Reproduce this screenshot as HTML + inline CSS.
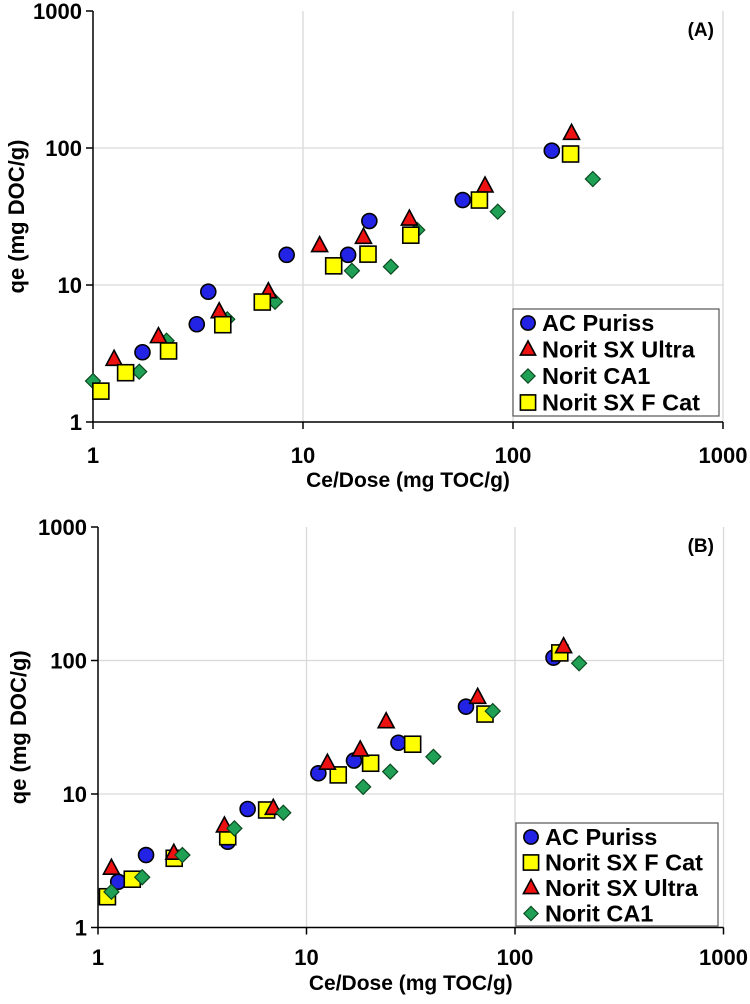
<!DOCTYPE html>
<html><head><meta charset="utf-8">
<style>
html,body{margin:0;padding:0;background:#fff;}
svg{display:block;font-family:"Liberation Sans",Arial,sans-serif;font-weight:bold;}
</style></head>
<body>
<svg id="chart" width="750" height="1004" viewBox="0 0 750 1004"></svg>
<script>
// ---- Panel A data ----
const aPurissX=[1.72,3.12,3.54,8.36,16.4,20.7,57.6,153];
const aPurissY=[3.23,5.17,8.93,16.6,16.6,29.3,41.7,95.6];
const aUltraX=[1.26,2.05,3.99,6.84,12.0,19.4,32.1,73.6,190];
const aUltraY=[2.87,4.2,6.38,8.93,19.4,22.3,30.3,52.8,128];
const aCA1X=[1.0,1.66,2.24,4.36,7.36,17.1,26.2,35.0,84.6,240];
const aCA1Y=[1.99,2.33,3.92,5.62,7.55,12.7,13.6,25.2,34.3,59.4];
const aFCatX=[1.09,1.43,2.29,4.15,6.40,14.0,20.4,32.6,69.2,188];
const aFCatY=[1.68,2.29,3.30,5.13,7.51,13.8,16.8,23.1,41.7,90.4];
// ---- Panel B data ----
const bPurissX=[1.25,1.70,4.19,5.22,11.4,16.9,27.6,58.2,153];
const bPurissY=[2.20,3.49,4.39,7.72,14.3,17.8,24.2,45.1,105];
const bFCatX=[1.11,1.46,2.32,4.19,6.44,14.2,20.3,32.3,71.8,164];
const bFCatY=[1.70,2.30,3.30,4.79,7.59,13.9,17.0,23.6,39.7,114];
const bUltraX=[1.16,2.31,4.04,6.93,12.6,18.1,24.1,66.2,171];
const bUltraY=[2.78,3.60,5.76,7.81,17.0,21.4,34.8,53.0,127];
const bCA1X=[1.16,1.63,2.54,4.51,7.74,18.7,25.2,40.6,78.2,203];
const bCA1Y=[1.85,2.38,3.49,5.53,7.24,11.3,14.7,19.0,41.8,95.3];
const tickVals=[1,10,100,1000];
const tickLabels=["1","10","100","1000"];

const NS="http://www.w3.org/2000/svg";
const svg=document.getElementById('chart');
function mk(tag,attrs,parent){const e=document.createElementNS(NS,tag);for(const k in attrs)e.setAttribute(k,attrs[k]);(parent||svg).appendChild(e);return e;}

function panel(p){
  const g=mk('g',{});
  
  
  const xs=v=>p.x0+(Math.log10(v))*p.dx;
  const ys=v=>p.y0-(Math.log10(v))*p.dy;
  tickVals.forEach((t,i)=>{
    if(i>0){
      const l1=mk('line',{x1:xs(t),x2:xs(t),y1:ys(1000),y2:ys(1),stroke:'#d9d9d9','stroke-width':1.3},g);
      
      
      if(i<3){const l2=mk('line',{x1:xs(1),x2:xs(1000),y1:ys(t),y2:ys(t),stroke:'#d9d9d9','stroke-width':1.3},g);
      
      }
    }
  });
  const ax=mk('path',{d:`M${xs(1)} ${ys(1000)} V${ys(1)} H${xs(1000)}`,fill:'none',stroke:'#000','stroke-width':1.5},g);
  
  
  tickVals.forEach((t,i)=>{
    const tk=mk('line',{x1:xs(1)-7,x2:xs(1),y1:ys(t),y2:ys(t),stroke:'#000','stroke-width':1.5},g);
    
    
    const tx=mk('line',{x1:xs(t),x2:xs(t),y1:ys(1),y2:ys(1)+7,stroke:'#000','stroke-width':1.5},g);
    
    
    const yl=mk('text',{x:xs(1)-11,y:ys(t)+8,'text-anchor':'end','font-size':22},g);
    yl.textContent=tickLabels[i];
    
    
    const xl=mk('text',{x:xs(t),y:p.xlabY,'text-anchor':'middle','font-size':22},g);
    xl.textContent=tickLabels[i];
    
    
  });
  const xt=mk('text',{x:(xs(1)+xs(1000))/2,y:p.xtitleY,'text-anchor':'middle','font-size':21},g);
  xt.textContent='Ce/Dose (mg TOC/g)';
  
  
  const yc=(ys(1)+ys(1000))/2;
  const yt=mk('text',{x:p.ytitleX,y:yc,'text-anchor':'middle','font-size':22,transform:`rotate(-90 ${p.ytitleX} ${yc})`},g);
  yt.textContent='qe (mg DOC/g)';
  
  
  const pl=mk('text',{x:714,y:ys(1000)+25,'text-anchor':'end','font-size':19},g);
  pl.textContent=p.label;
  
  
  p.series.forEach(s=>{
    const sg=mk('g',{},g);
    
    
    s.x.forEach((v,i)=>{
      const m=marker(s.shape,xs(v),ys(s.y[i]),sg);
      
      
    });
  });
  const lg=mk('g',{},g);
  
  
  const box=mk('rect',{x:p.leg[0],y:p.leg[1],width:p.leg[2],height:p.leg[3],fill:'#fff',stroke:'#555','stroke-width':1.2},lg);
  
  
  p.legOrder.forEach((s,i)=>{
    const cy=p.leg[1]+14+i*p.legStep;
    const eg=mk('g',{},lg);
    
    
    marker(s.shape,p.leg[0]+15,cy,eg,0.95);
    const t=mk('text',{x:p.leg[0]+29,y:cy+8,'font-size':23.5},eg);
    t.textContent=s.label;
  });
}
function marker(shape,x,y,parent,sc){
  sc=sc||1;
  const st={stroke:'#000','stroke-width':1.6};
  if(shape==='circle')return mk('circle',Object.assign({cx:x,cy:y,r:7.5*sc,fill:'#2323e6'},st),parent);
  if(shape==='square'){const h=8*sc;return mk('rect',Object.assign({x:x-h,y:y-h,width:2*h,height:2*h,fill:'#ffff00'},st),parent);}
  if(shape==='triangle'){const h=8*sc;return mk('path',Object.assign({d:`M${x} ${y-h-1} L${x+h} ${y+h-2} L${x-h} ${y+h-2}Z`,fill:'#ee1111'},st),parent);}
  const h=7.5*sc;return mk('path',{d:`M${x} ${y-h} L${x+h} ${y} L${x} ${y+h} L${x-h} ${y}Z`,fill:'#1fa055',stroke:'#0b4a20','stroke-width':1.2},parent);
}
const SA={key:'ac-puriss',label:'AC Puriss',shape:'circle'};
const SU={key:'norit-sx-ultra',label:'Norit SX Ultra',shape:'triangle'};
const SC={key:'norit-ca1',label:'Norit CA1',shape:'diamond'};
const SF={key:'norit-sx-f-cat',label:'Norit SX F Cat',shape:'square'};
panel({name:'panel-a',x0:93,dx:210,y0:422,dy:137,xlabY:463,xtitleY:487,ytitleX:24,label:'(A)',
  leg:[513,309,206,107],legStep:26.5,
  series:[Object.assign({},SA,{x:aPurissX,y:aPurissY}),Object.assign({},SC,{x:aCA1X,y:aCA1Y}),Object.assign({},SU,{x:aUltraX,y:aUltraY}),Object.assign({},SF,{x:aFCatX,y:aFCatY})],
  legOrder:[SA,SU,SC,SF]});
panel({name:'panel-b',x0:98,dx:208.5,y0:927.5,dy:133.5,xlabY:965,xtitleY:990,ytitleX:26,label:'(B)',
  leg:[516,823,202,103],legStep:25.5,
  series:[Object.assign({},SA,{x:bPurissX,y:bPurissY}),Object.assign({},SF,{x:bFCatX,y:bFCatY}),Object.assign({},SU,{x:bUltraX,y:bUltraY}),Object.assign({},SC,{x:bCA1X,y:bCA1Y})],
  legOrder:[SA,SF,SU,SC]});
</script>
</body></html>
